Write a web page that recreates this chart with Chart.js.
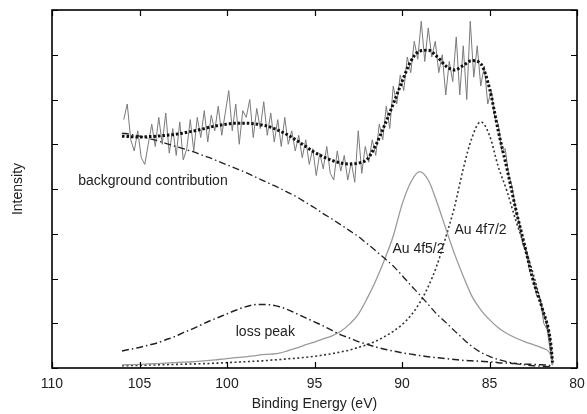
<!DOCTYPE html>
<html>
<head>
<meta charset="utf-8">
<script src="https://cdn.jsdelivr.net/npm/chart.js@4/dist/chart.umd.min.js"></script>
<style>
  html, body { margin: 0; padding: 0; background: #fff; }
  #wrap { width: 587px; height: 414px; }
</style>
</head>
<body>
<div id="wrap"><canvas id="xpsChart" width="587" height="414"></canvas></div>
<script>
// Energy grid (eV) for the fitted components
const energies = [106, 105.5, 105, 104.5, 104, 103.5, 103, 102.5, 102, 101.5,
  101, 100.5, 100, 99.5, 99, 98.5, 98, 97.5, 97, 96.5,
  96, 95.5, 95, 94.5, 94, 93.5, 93, 92.5, 92, 91.5,
  91, 90.5, 90, 89.5, 89, 88.5, 88, 87.5, 87, 86.5,
  86, 85.5, 85, 84.5, 84, 83.5, 83, 82.5, 82, 81.5, 81.4];

// Total fit envelope
const fitCurve = [5.18, 5.17, 5.16, 5.17, 5.18, 5.2, 5.22, 5.25, 5.29, 5.33,
  5.38, 5.42, 5.45, 5.47, 5.47, 5.46, 5.43, 5.38, 5.3, 5.2,
  5.08, 4.95, 4.82, 4.72, 4.64, 4.58, 4.56, 4.58, 4.66, 4.98,
  5.42, 5.9, 6.4, 6.85, 7.08, 7.1, 6.96, 6.75, 6.66, 6.76,
  6.87, 6.8, 6.25, 5.3, 4.45, 3.55, 2.75, 1.95, 1.35, 0.55, 0.12];

// Shirley-type background
const background = [5.25, 5.22, 5.18, 5.13, 5.08, 5.02, 4.96, 4.9, 4.84, 4.77,
  4.7, 4.62, 4.54, 4.46, 4.38, 4.29, 4.2, 4.11, 4.02, 3.92,
  3.82, 3.7, 3.58, 3.45, 3.33, 3.2, 3.07, 2.94, 2.78, 2.62,
  2.45, 2.28, 2.07, 1.85, 1.64, 1.42, 1.2, 1.02, 0.83, 0.65,
  0.48, 0.35, 0.26, 0.19, 0.14, 0.1, 0.07, 0.05, 0.04, 0.03, 0.02];

// Plasmon loss peak
const lossPeak = [0.38, 0.42, 0.46, 0.51, 0.56, 0.63, 0.7, 0.79, 0.87, 0.96,
  1.05, 1.13, 1.21, 1.29, 1.36, 1.41, 1.42, 1.41, 1.37, 1.3,
  1.21, 1.12, 1.03, 0.94, 0.84, 0.74, 0.67, 0.59, 0.53, 0.47,
  0.42, 0.38, 0.34, 0.31, 0.28, 0.25, 0.23, 0.21, 0.19, 0.17,
  0.16, 0.15, 0.14, 0.12, 0.11, 0.1, 0.09, 0.08, 0.07, 0.05, 0.03];

// Au 4f5/2 component
const au4f52 = [0.07, 0.075, 0.08, 0.09, 0.1, 0.11, 0.12, 0.13, 0.14, 0.155,
  0.17, 0.19, 0.21, 0.23, 0.25, 0.27, 0.3, 0.31, 0.33, 0.39,
  0.45, 0.52, 0.58, 0.65, 0.72, 0.82, 0.98, 1.2, 1.55, 1.95,
  2.42, 2.95, 3.65, 4.15, 4.39, 4.2, 3.7, 3.12, 2.55, 2.05,
  1.6, 1.3, 1.08, 0.9, 0.77, 0.67, 0.59, 0.52, 0.45, 0.28, 0.06];

// Au 4f7/2 component
const au4f72 = [0.05, 0.055, 0.06, 0.065, 0.07, 0.075, 0.08, 0.085, 0.09, 0.095,
  0.1, 0.11, 0.12, 0.13, 0.14, 0.15, 0.16, 0.175, 0.19, 0.205,
  0.22, 0.24, 0.26, 0.29, 0.32, 0.36, 0.4, 0.46, 0.52, 0.6,
  0.7, 0.82, 0.97, 1.17, 1.45, 1.82, 2.3, 2.92, 3.6, 4.45,
  5.15, 5.5, 5.2, 4.5, 3.95, 3.3, 2.72, 2.1, 1.35, 0.5, 0.07];

// Measured spectrum, 0.2 eV steps from 105.9 eV down to 81.5 eV
const spectrumStart = 105.9;
const spectrumStep = 0.2;
const counts = [
  5.55, 5.9, 5.1, 4.85, 5.3, 4.7, 4.55, 5.0, 5.45, 4.95,
  5.6, 5.0, 5.7, 4.8, 5.35, 4.75, 5.5, 4.65, 4.9, 5.55,
  4.85, 5.6, 5.15, 5.75, 5.05, 5.65, 5.3, 5.85, 5.2, 5.7,
  6.2, 5.3, 5.9, 5.0, 5.75, 5.6, 6.0, 5.15, 5.8, 5.35,
  5.95, 5.2, 5.7, 5.05, 5.55, 4.95, 5.6, 5.0, 5.3, 4.85,
  5.2, 4.7, 5.1, 4.55, 4.9, 4.3, 4.8, 4.45, 4.95, 4.35,
  4.2, 4.85, 4.4, 4.75, 4.2, 4.6, 4.15, 5.3, 4.35, 4.95,
  4.6, 5.1, 4.75, 5.45, 5.1, 5.85, 5.35, 6.3, 5.9, 6.55,
  6.2, 6.95, 6.6, 7.3, 6.9, 7.75, 6.85, 7.6, 6.95, 7.3,
  6.6, 7.0, 6.1, 6.85, 6.4, 7.4, 6.1, 7.2, 6.0, 7.75,
  6.5, 7.2, 6.3, 6.75, 5.9, 6.2, 5.6, 5.45, 4.85, 4.9,
  4.3, 4.05, 3.5, 3.25, 2.75, 2.6, 2.15, 2.0, 1.6, 1.55,
  1.0, 0.85, 0.3];

const xTicks = [110, 105, 100, 95, 90, 85, 80];

const toPoints = (ys) => ys.map((v, i) => ({ x: energies[i], y: v }));
const spectrum = counts.map((v, i) => ({
  x: +(spectrumStart - i * spectrumStep).toFixed(2), y: v
}));

// Text labels placed in data coordinates
const curveLabels = [
  { text: 'background contribution', x: 108.5, y: 4.18 },
  { text: 'loss peak', x: 99.5, y: 0.8 },
  { text: 'Au 4f5/2', x: 90.55, y: 2.66 },
  { text: 'Au 4f7/2', x: 87.0, y: 3.08 }
];

// Frame, inward ticks on all four sides, and curve labels
const frameAndLabels = {
  id: 'frameAndLabels',
  afterDatasetsDraw(chart) {
    const { ctx, chartArea: a, scales: { x, y } } = chart;
    ctx.save();
    ctx.strokeStyle = '#000';
    ctx.lineWidth = 1.2;
    ctx.beginPath();
    x.ticks.forEach(t => {
      const px = Math.round(x.getPixelForValue(t.value)) + 0.5;
      ctx.moveTo(px, a.bottom); ctx.lineTo(px, a.bottom - 6);
      ctx.moveTo(px, a.top); ctx.lineTo(px, a.top + 6);
    });
    y.ticks.forEach(t => {
      const py = Math.round(y.getPixelForValue(t.value)) + 0.5;
      ctx.moveTo(a.left, py); ctx.lineTo(a.left + 6, py);
      ctx.moveTo(a.right, py); ctx.lineTo(a.right - 6, py);
    });
    ctx.stroke();
    ctx.lineWidth = 1.6;
    ctx.strokeRect(a.left, a.top, a.right - a.left, a.bottom - a.top);

    ctx.fillStyle = '#222';
    ctx.font = '14px "Liberation Sans", Arial, sans-serif';
    ctx.textBaseline = 'middle';
    ctx.textAlign = 'left';
    curveLabels.forEach(l => {
      ctx.fillText(l.text, x.getPixelForValue(l.x), y.getPixelForValue(l.y));
    });
    ctx.restore();
  }
};

Chart.defaults.font.family = '"Liberation Sans", Arial, sans-serif';
Chart.defaults.font.size = 14;
Chart.defaults.color = '#222';

const lineSet = (data, color, width, dash, order) => ({
  data, borderColor: color, borderWidth: width, borderDash: dash,
  pointRadius: 0, fill: false, cubicInterpolationMode: 'monotone', order
});

new Chart(document.getElementById('xpsChart'), {
  type: 'line',
  data: {
    datasets: [
      { label: 'measured', data: spectrum, borderColor: '#7a7a7a', borderWidth: 1,
        pointRadius: 0, fill: false, tension: 0, order: 6 },
      lineSet(toPoints(fitCurve), '#111', 3, [2.5, 2], 1),
      lineSet(toPoints(background), '#222', 1.3, [7, 3, 1.5, 3], 2),
      lineSet(toPoints(lossPeak), '#222', 1.5, [7, 3, 1.5, 3], 3),
      lineSet(toPoints(au4f52), '#9a9a9a', 1.3, [], 4),
      lineSet(toPoints(au4f72), '#333', 1.6, [2, 2.5], 5)
    ]
  },
  options: {
    responsive: false,
    animation: false,
    layout: { padding: { left: 0, right: 10, top: 10, bottom: 0 } },
    plugins: { legend: { display: false }, tooltip: { enabled: false } },
    scales: {
      x: {
        type: 'linear',
        reverse: true,
        min: 80,
        max: 110,
        afterBuildTicks: (s) => { s.ticks = xTicks.map(v => ({ value: v })); },
        afterFit: (s) => { s.height = 46; s.paddingLeft = 0; s.paddingRight = 0; },
        grid: { display: false, drawTicks: false },
        border: { display: false },
        ticks: { padding: 8, color: '#222', font: { size: 14 } },
        title: { display: true, text: 'Binding Energy (eV)', color: '#222',
                 font: { size: 14 }, padding: { top: 0, bottom: 1 } }
      },
      y: {
        min: 0,
        max: 8,
        ticks: { stepSize: 1, display: false },
        afterFit: (s) => { s.width = 52; s.paddingTop = 0; s.paddingBottom = 0; },
        grid: { display: false, drawTicks: false },
        border: { display: false },
        title: { display: true, text: 'Intensity', color: '#222',
                 font: { size: 14 }, padding: { top: 10, bottom: 0 } }
      }
    }
  },
  plugins: [frameAndLabels]
});
</script>
</body>
</html>
